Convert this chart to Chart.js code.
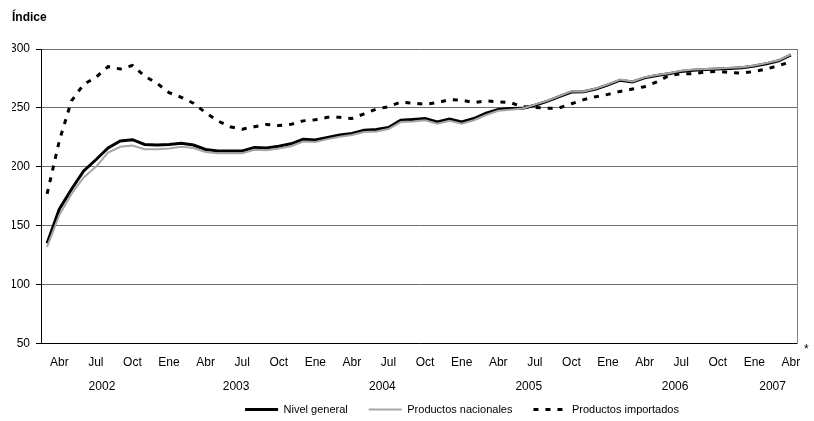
<!DOCTYPE html>
<html>
<head>
<meta charset="utf-8">
<script src="https://cdn.jsdelivr.net/npm/chart.js@4.4.0/dist/chart.umd.min.js"></script>
<style>
  html, body { margin: 0; padding: 0; background: #fff; }
</style>
</head>
<body>
<canvas id="chart" width="814" height="421"></canvas>
<script>
// categories: Mar 2002 .. Abr 2007
const months = [
  'Mar','Abr','May','Jun','Jul','Ago','Sep','Oct','Nov','Dic',
  'Ene','Feb','Mar','Abr','May','Jun','Jul','Ago','Sep','Oct','Nov','Dic',
  'Ene','Feb','Mar','Abr','May','Jun','Jul','Ago','Sep','Oct','Nov','Dic',
  'Ene','Feb','Mar','Abr','May','Jun','Jul','Ago','Sep','Oct','Nov','Dic',
  'Ene','Feb','Mar','Abr','May','Jun','Jul','Ago','Sep','Oct','Nov','Dic',
  'Ene','Feb','Mar','Abr'
];
const shownMonths = ['Abr', 'Jul', 'Oct', 'Ene'];
// year label and number of months in that year
const yearGroups = [['2002', 10], ['2003', 12], ['2004', 12], ['2005', 12], ['2006', 12], ['2007', 4]];
const yTicks = [50, 100, 150, 200, 250, 300];

const nivelGeneral = [
  135, 164, 181, 196.5, 206, 216, 222, 223, 219, 218.5, 219, 220,
  218.5, 214.7, 213.5, 213.5, 213.5, 216.4, 216, 217.5, 219.5, 223.3, 222.7, 225,
  227, 228.3, 231, 231.6, 233.4, 239.6, 240.2, 241, 238, 240.5, 238, 241,
  245.5, 248.7, 249.5, 249.6, 252.3, 255.5, 259.5, 263.5, 263.7, 266, 269.5, 273.5,
  272, 275.5, 277.5, 279, 281, 282, 282.5, 283, 283.5, 284, 285.5, 287.5,
  290, 295
];
const nacionales = [
  132, 159, 177, 191, 200, 212, 217, 218, 215, 215, 215.5, 217,
  216, 212.5, 211.5, 211.5, 211.5, 214.5, 214, 215.5, 217.5, 221.5, 221, 223.5,
  225.5, 227, 229.5, 230, 232, 238, 238.5, 239.5, 236.5, 239, 236.5, 239.5,
  244, 247.5, 248.5, 249.5, 252.8, 256, 260, 264, 264, 266.5, 270, 274,
  272.5, 276, 278, 279.5, 281.5, 282.5, 283, 283.5, 284, 284.5, 286, 288,
  290.5, 295.5
];
const importados = [
  177, 222, 256, 270, 276, 285, 283, 286, 277, 271, 263, 259,
  254, 246, 239, 234, 232, 234, 236, 235, 236, 239, 240, 242,
  242, 241, 245, 249, 251, 255, 254, 253, 254.5, 257, 256.5, 254.5,
  256, 255, 254.5, 251, 250.5, 249.6, 250, 253.5, 257, 259.5, 261.5, 264,
  266, 268, 272, 277.5, 279, 279, 280.5, 281, 280, 279.5, 281, 283,
  286, 289
];

const FONT = "'Liberation Sans', Arial, sans-serif";
Chart.defaults.font.family = FONT;
Chart.defaults.color = '#000';

const legendShift = 49;

const extras = {
  id: 'extras',
  afterLayout(chart) {
    const lg = chart.legend;
    lg.left += legendShift;
    lg.right += legendShift;
    lg.top += 4;
    lg.bottom += 4;
  },
  afterDraw(chart) {
    const x = chart.scales.x;
    const area = chart.chartArea;
    const ctx = chart.ctx;
    ctx.save();
    ctx.font = '12px ' + FONT;
    ctx.fillStyle = '#000';
    ctx.textAlign = 'center';
    ctx.textBaseline = 'middle';
    let start = 0;
    yearGroups.forEach(([year, n]) => {
      const cx = (x.getPixelForValue(start) + x.getPixelForValue(start + n - 1)) / 2;
      ctx.fillText(year, cx, area.bottom + 43);
      start += n;
    });
    ctx.textAlign = 'left';
    ctx.fillText('*', x.getPixelForValue(months.length - 1) + 13, area.bottom + 6);
    ctx.restore();
  }
};

new Chart(document.getElementById('chart'), {
  type: 'line',
  data: {
    labels: months,
    datasets: [
      { label: 'Nivel general', data: nivelGeneral, borderColor: '#000', backgroundColor: '#000',
        borderWidth: 3, pointRadius: 0, tension: 0 },
      { label: 'Productos nacionales', data: nacionales, borderColor: '#a6a6a6', backgroundColor: '#a6a6a6',
        borderWidth: 2, pointRadius: 0, tension: 0, order: -1 },
      { label: 'Productos importados', data: importados, borderColor: '#000', backgroundColor: '#000',
        borderWidth: 3, borderDash: [5, 7], pointRadius: 0, tension: 0 }
    ]
  },
  options: {
    responsive: false,
    animation: false,
    layout: { padding: { left: 12, right: 0, top: 0, bottom: 0 } },
    plugins: {
      title: {
        display: true, text: 'Índice', align: 'start', color: '#000',
        font: { size: 12, weight: 'bold' }, padding: { top: 10, bottom: 24.6 }
      },
      legend: {
        position: 'bottom',
        labels: {
          usePointStyle: true, pointStyle: 'line', pointStyleWidth: 33,
          font: { size: 11 }, color: '#000', padding: 21,
          sort: (a, b) => a.datasetIndex - b.datasetIndex,
          generateLabels: (chart) => Chart.defaults.plugins.legend.labels.generateLabels(chart).map(l => {
            const ds = chart.data.datasets[l.datasetIndex];
            l.lineDash = ds.borderDash || [];
            l.lineWidth = ds.borderWidth;
            l.strokeStyle = ds.borderColor;
            return l;
          })
        }
      },
      tooltip: { enabled: false }
    },
    scales: {
      x: {
        offset: true,
        grid: { display: false, drawTicks: false },
        border: { color: '#000', width: 1 },
        ticks: {
          autoSkip: false, maxRotation: 0, padding: 12, font: { size: 12 }, color: '#000',
          callback: (v, i) => shownMonths.includes(months[i]) ? months[i] : ''
        },
        afterFit: (s) => { s.height = 35.5; }
      },
      y: {
        min: 50, max: 300,
        afterBuildTicks: (s) => { s.ticks = yTicks.map(v => ({ value: v })); },
        grid: { color: '#6e6e6e', lineWidth: 1, tickLength: 5, tickColor: '#000' },
        border: { color: '#000', width: 1 },
        ticks: { padding: 6, font: { size: 12 }, color: '#000' },
        afterFit: (s) => { s.width = 29; }
      },
      y2: {
        position: 'right',
        min: 50, max: 300,
        grid: { display: false, drawTicks: false },
        border: { color: '#808080', width: 1 },
        ticks: { display: false },
        afterFit: (s) => { s.width = 17; }
      }
    }
  },
  plugins: [extras]
});
</script>
</body>
</html>
